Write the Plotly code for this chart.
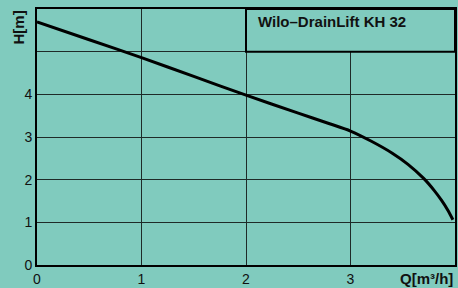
import plotly.graph_objects as go

# Data
flow_q = [0.0, 0.5, 1.0, 1.5, 2.0, 2.5, 2.8, 3.0, 3.2, 3.4, 3.55, 3.7, 3.8, 3.87, 3.93, 3.98]
head_h = [5.70, 5.28, 4.86, 4.42, 3.98, 3.56, 3.31, 3.14, 2.90, 2.62, 2.36, 2.03, 1.75, 1.52, 1.29, 1.06]
x_tickvals = [0, 1, 2, 3, 4]
x_ticktext = ["0", "1", "2", "3", ""]
y_tickvals = [0, 1, 2, 3, 4, 5]
y_ticktext = ["0", "1", "2", "3", "4", ""]
title_text = "Wilo–DrainLift KH 32"
x_label = "Q[m³/h]"
y_label = "H[m]"

bg = "#80cbbe"
font_family = "Liberation Sans, Arial, sans-serif"

fig = go.Figure()
fig.add_trace(go.Scatter(
    x=flow_q, y=head_h, mode="lines",
    line=dict(color="black", width=3, shape="spline", smoothing=0.8),
    hoverinfo="skip", showlegend=False,
))

fig.update_layout(
    width=458, height=288,
    margin=dict(l=37, r=1, t=9, b=23),
    paper_bgcolor=bg, plot_bgcolor=bg,
    font=dict(family=font_family, size=14, color="#111"),
    xaxis=dict(
        range=[0, 4], tickvals=x_tickvals, ticktext=x_ticktext,
        showgrid=True, gridcolor="#1e2a28", gridwidth=1,
        zeroline=False, showline=True, linecolor="black", linewidth=2, mirror=True,
        ticks="", ticklen=0, tickfont=dict(size=14),
        fixedrange=True,
    ),
    yaxis=dict(
        range=[0, 6], tickvals=y_tickvals, ticktext=y_ticktext,
        showgrid=True, gridcolor="#1e2a28", gridwidth=1,
        zeroline=False, showline=True, linecolor="black", linewidth=2, mirror=True,
        ticks="", ticklen=0, tickfont=dict(size=14),
        fixedrange=True,
    ),
    shapes=[
        dict(type="rect", xref="x", yref="y", x0=2, x1=4, y0=5, y1=6,
             fillcolor=bg, line=dict(color="black", width=2), layer="above"),
    ],
    annotations=[
        dict(text="<b>" + title_text + "</b>", xref="x", yref="y", x=2.1, y=5.70,
             xanchor="left", yanchor="middle", showarrow=False,
             font=dict(size=15, color="#111")),
        dict(text="<b>" + x_label + "</b>", xref="paper", yref="paper", x=1.0, y=0,
             xanchor="right", yanchor="top", yshift=-3, showarrow=False,
             font=dict(size=15, color="#111")),
        dict(text="<b>" + y_label + "</b>", xref="paper", yref="paper", x=0, y=1,
             xanchor="right", yanchor="top", xshift=-9, showarrow=False, textangle=-90,
             font=dict(size=15, color="#111")),
    ],
)

fig.write_html(
    "out.html",
    config={"displayModeBar": False, "staticPlot": True},
    post_script="document.body.style.margin='0';document.body.style.overflow='hidden';",
)
